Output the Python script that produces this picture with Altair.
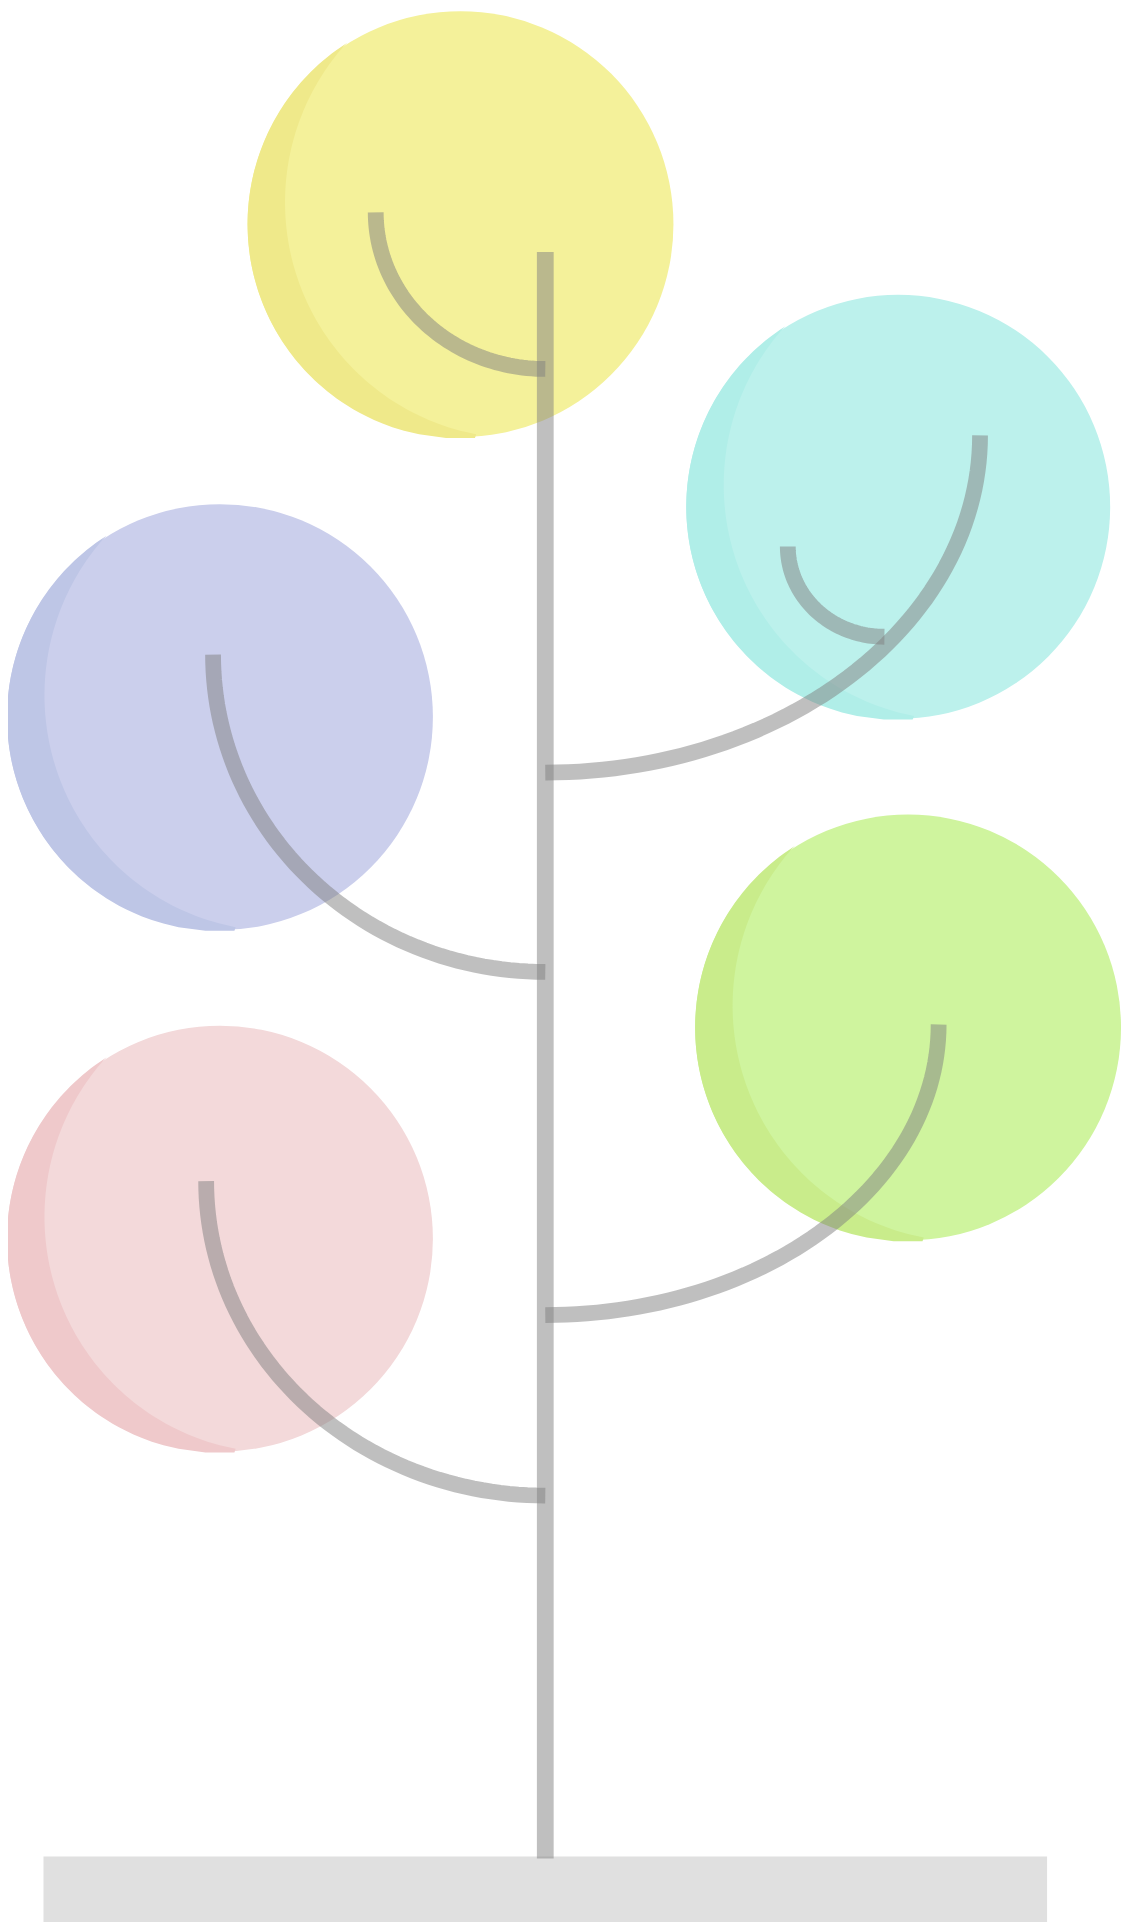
import altair as alt
import pandas as pd
import numpy as np

W, H = 1114, 1914
S = W / 1130

# circles: center x, center y, radius, colour, shade colour (reference pixel coords)
cx = [459, 903, 215, 913, 215]
cy = [218, 503, 715, 1028, 1241]
cr = [216, 215, 216, 216, 216]
ccol = ["#f4f19a", "#bcf1ec", "#cbcfec", "#cff49e", "#f3d9da"]
shade = ["#efe98a", "#b0eee8", "#bec6e6", "#c9ec8b", "#efc9cb"]

# branches: quarter ellipses (center x, center y, rx, ry, side)
bx = [545, 545, 889, 545, 545, 545]
by = [206, 431, 543, 652, 1025, 1183]
brx = [172, 441, 98, 337, 399, 344]
bry = [158, 340, 91, 320, 293, 317]
bside = [-1, 1, -1, -1, 1, -1]

xs = alt.Scale(domain=[0, 1130], range=[0, W])
ys = alt.Scale(domain=[0, 1930], range=[0, H])
noax = dict(axis=None)

circ = pd.DataFrame({"x": cx, "y": cy, "size": [(2 * r * S) ** 2 for r in cr], "c": ccol})
circles = alt.Chart(circ).mark_point(filled=True, shape="circle", opacity=1).encode(
    x=alt.X("x:Q", scale=xs, **noax), y=alt.Y("y:Q", scale=ys, **noax),
    size=alt.Size("size:Q", scale=None), color=alt.Color("c:N", scale=None))

# crescent shading on the left of each circle
srows = []
for i in range(len(cx)):
    r = cr[i]
    icx, icy, ir = cx[i] + 60, cy[i] - 22, r + 22
    for k, yy in enumerate(np.linspace(cy[i] - r + 0.5, cy[i] + r - 0.5, 120)):
        h = np.sqrt(max(r * r - (yy - cy[i]) ** 2, 0))
        xl, xr = cx[i] - h, cx[i] + h
        d = ir * ir - (yy - icy) ** 2
        xi = icx - np.sqrt(d) if d > 0 else xr
        x2 = min(max(xi, xl), xr)
        srows.append({"g": i, "y": yy, "x": xl, "x2": x2, "c": shade[i]})
sh = pd.DataFrame(srows)
shades = alt.Chart(sh).mark_area(orient="horizontal", opacity=1).encode(
    y=alt.Y("y:Q", scale=ys, **noax), x=alt.X("x:Q", scale=xs, **noax), x2="x2:Q",
    color=alt.Color("c:N", scale=None), detail="g:N")

rows = []
t = np.linspace(0, np.pi / 2, 60)
for i in range(len(bx)):
    for k, tt in enumerate(t):
        rows.append({"b": i, "o": k, "x": bx[i] + bside[i] * brx[i] * np.cos(tt),
                     "y": by[i] + bry[i] * np.sin(tt)})
br = pd.DataFrame(rows)
branches = alt.Chart(br).mark_line(color="#7f7f7f", opacity=0.5, strokeWidth=16 * S, strokeCap="butt").encode(
    x=alt.X("x:Q", scale=xs, **noax), y=alt.Y("y:Q", scale=ys, **noax),
    detail="b:N", order="o:Q")

trunk = alt.Chart(pd.DataFrame({"x": [545], "y": [246], "y2": [1866]})).mark_rule(
    color="#7f7f7f", opacity=0.5, strokeWidth=17 * S).encode(
    x=alt.X("x:Q", scale=xs, **noax), y=alt.Y("y:Q", scale=ys, **noax), y2="y2:Q")

ground = alt.Chart(pd.DataFrame({"x": [36], "x2": [1054], "y": [1864], "y2": [1930]})).mark_rect(
    color="#e0e0e0").encode(
    x=alt.X("x:Q", scale=xs, **noax), x2="x2:Q", y=alt.Y("y:Q", scale=ys, **noax), y2="y2:Q")

chart = alt.layer(circles, shades, ground, trunk, branches).properties(
    width=W, height=H, padding=0, autosize=alt.AutoSizeParams(type="none")
).configure_view(stroke=None)

chart.save("out.html", embed_options={"renderer": "svg", "actions": False})
